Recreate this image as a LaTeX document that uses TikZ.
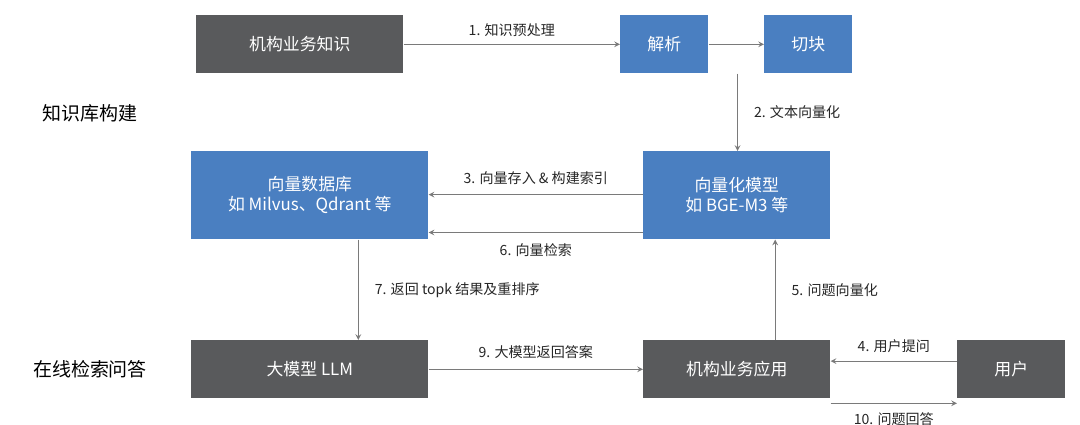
\documentclass[tikz,border=0pt]{standalone}
\usepackage{fontspec}
\setmainfont{Noto Sans CJK SC}
\usetikzlibrary{arrows}
\definecolor{boxgray}{HTML}{595A5C}
\definecolor{boxblue}{HTML}{4A7FC1}
\definecolor{linegray}{HTML}{7A7A7A}
\begin{document}
\begin{tikzpicture}[x=0.025cm,y=-0.025cm,>=stealth,font=\fontsize{12}{14}\selectfont]
	\tikzstyle{grey box}=[rectangle, fill=boxgray, text=white, minimum height=1.45cm, anchor=north west, inner sep=0pt, align=center]
	\tikzstyle{blue box}=[rectangle, fill=boxblue, text=white, minimum height=1.45cm, anchor=north west, inner sep=0pt, align=center]
	\tikzstyle{tall}=[minimum height=2.2cm]
	\tikzstyle{link}=[->, draw=linegray, thick]
	\tikzstyle{lbl}=[font=\fontsize{10}{12}\selectfont, text=black!85]
	\tikzstyle{side}=[font=\fontsize{13.5}{15}\selectfont]

	\useasboundingbox (0,0) rectangle (1080,425);

	% top row
	\node [grey box, minimum width=5.175cm] (know) at (196,15) {机构业务知识};
	\node [blue box, minimum width=2.2cm] (parse) at (620,15) {解析};
	\node [blue box, minimum width=2.2cm] (chunk) at (764,15) {切块};

	% middle row
	\node [blue box, tall, minimum width=5.925cm] (vdb) at (191,151) {向量数据库\\如 Milvus、Qdrant 等};
	\node [blue box, tall, minimum width=4.675cm] (emb) at (643,151) {向量化模型\\如 BGE-M3 等};

	% bottom row
	\node [grey box, minimum width=5.925cm] (llm) at (191,340) {大模型 LLM};
	\node [grey box, minimum width=4.675cm] (app) at (643,340) {机构业务应用};
	\node [grey box, minimum width=2.7cm] (user) at (957,340) {用户};

	\node [side] (build) at (90,113) {知识库构建};
	\node [side] (online) at (90,369) {在线检索问答};

	% connectors
	\draw [link] (know) -- node [lbl, above=2pt] {1. 知识预处理} (parse);
	\draw [link] (parse) -- (chunk);
	\draw [link] (parse.south east) ++(29,0) coordinate (p2) -- (p2 |- emb.north)
		node [lbl, midway, right=8pt] {2. 文本向量化};
	\draw [link] ([yshift=-31]emb.north west) -- node [lbl, above=3pt] {3. 向量存入 \& 构建索引} ([yshift=-31]vdb.north east);
	\draw [link] ([yshift=-58]emb.north west) -- node [lbl, below=4pt] {6. 向量检索} ([yshift=-58]vdb.north east);
	\draw [link] ([xshift=119]vdb.south west) -- node [lbl, right=8pt] {7. 返回 topk 结果及重排序} ([xshift=119]llm.north west);
	\draw [link] (llm) -- node [lbl, above=4pt] {9. 大模型返回答案} (app);
	\draw [link] ([xshift=94]app.north west) -- node [lbl, right=8pt] {5. 问题向量化} ([xshift=94]emb.south west);
	\draw [link] ([yshift=-15]user.north west) -- node [lbl, above=2pt] {4. 用户提问} ([yshift=-15]app.north east);
	\draw [link] ([yshift=-45]app.north east) -- node [lbl, below=3pt] {10. 问题回答} ([yshift=-45]user.north west);
\end{tikzpicture}
\end{document}
